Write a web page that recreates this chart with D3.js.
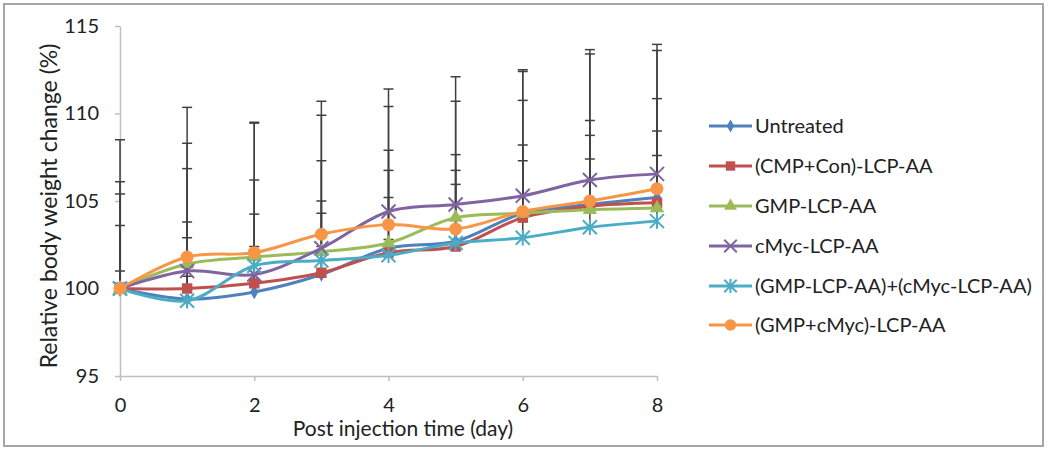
<!DOCTYPE html>
<html>
<head>
<meta charset="utf-8">
<script src="https://cdn.jsdelivr.net/npm/d3@7"></script>
<style>
  html, body { margin: 0; padding: 0; background: #fff; }
  svg { display: block; }
</style>
</head>
<body>
<svg id="chart" width="1050" height="452"></svg>
<script>
// ---------------- DATA ----------------
const days = [0, 1, 2, 3, 4, 5, 6, 7, 8];
const xTicks = [0, 2, 4, 6, 8];
const yTicks = [95, 100, 105, 110, 115];

const seriesNames = [
  "Untreated",
  "(CMP+Con)-LCP-AA",
  "GMP-LCP-AA",
  "cMyc-LCP-AA",
  "(GMP-LCP-AA)+(cMyc-LCP-AA)",
  "(GMP+cMyc)-LCP-AA"
];
const seriesColors = ["#4F81BD", "#C0504D", "#9BBB59", "#8064A2", "#4BACC6", "#F79646"];
const seriesMarkers = ["diamond", "square", "triangle", "x", "star", "circle"];

const untreated   = [100, 99.4, 99.8, 100.8, 102.3, 102.7, 104.3, 104.8, 105.2];
const cmpCon      = [100, 100.0, 100.3, 100.9, 102.05, 102.4, 104.05, 104.7, 104.9];
const gmp         = [100, 101.4, 101.8, 102.1, 102.6, 104.05, 104.3, 104.5, 104.6];
const cmyc        = [100, 101.0, 100.8, 102.3, 104.4, 104.8, 105.3, 106.2, 106.55];
const gmpPlusCmyc = [100, 99.3, 101.3, 101.6, 101.9, 102.6, 102.9, 103.5, 103.85];
const gmpCmycCo   = [100, 101.8, 102.05, 103.1, 103.65, 103.4, 104.4, 105.0, 105.7];

const untreatedErr   = [1.0, 3.5, 2.6, 3.5, 2.9, 3.25, 3.0, 2.6, 2.4];
const cmpConErr      = [3.6, 3.8, 3.95, 4.1, 4.7, 4.35, 4.15, 4.05, 4.1];
const gmpErr         = [5.4, 5.45, 4.4, 5.2, 5.3, 3.6, 6.45, 5.1, 6.25];
const cmycErr        = [6.1, 7.3, 8.65, 7.6, 6.0, 5.9, 7.1, 7.2, 7.05];
const gmpPlusCmycErr = [0.3, 1.4, 0.9, 0.8, 0.9, 0.7, 1.5, 1.2, 1.1];
const gmpCmycCoErr   = [8.5, 8.55, 7.45, 7.6, 7.75, 8.7, 8.1, 8.65, 8.25];

const seriesValues = [untreated, cmpCon, gmp, cmyc, gmpPlusCmyc, gmpCmycCo];
const seriesErrors = [untreatedErr, cmpConErr, gmpErr, cmycErr, gmpPlusCmycErr, gmpCmycCoErr];

// ---------------- LAYOUT ----------------
const svg = d3.select("#chart");
const FONT = "Lato, 'Open Sans', sans-serif";

svg.append("rect")
  .attr("x", 4).attr("y", 4).attr("width", 1039).attr("height", 442)
  .attr("fill", "#fff").attr("stroke", "#a6a6a6").attr("stroke-width", 2);

const x = d3.scaleLinear().domain([0, 8]).range([120, 657]);
const y = d3.scaleLinear().domain([95, 115]).range([376, 26]);

// Axes
const yAxis = svg.append("g")
  .attr("transform", `translate(${x(0)},0)`)
  .call(d3.axisLeft(y).tickValues(yTicks).tickSize(5).tickSizeOuter(0).tickPadding(16));
const xAxis = svg.append("g")
  .attr("transform", `translate(0,${y(95)})`)
  .call(d3.axisBottom(x).tickValues(xTicks).tickSize(5).tickSizeOuter(0).tickPadding(17));

[yAxis, xAxis].forEach(g => {
  g.select(".domain").attr("stroke", "#bfbfbf").attr("stroke-width", 1.5);
  g.selectAll(".tick line").attr("stroke", "#bfbfbf").attr("stroke-width", 1.5);
  g.selectAll(".tick text").attr("fill", "#222").style("font-family", FONT).style("font-size", "20px");
});

// Axis titles
svg.append("text")
  .attr("x", 403).attr("y", 436)
  .attr("text-anchor", "middle")
  .style("font-family", FONT).style("font-size", "21px").attr("fill", "#222")
  .text("Post injection time (day)");

svg.append("text")
  .attr("transform", "translate(57,206) rotate(-90)")
  .attr("text-anchor", "middle")
  .style("font-family", FONT).style("font-size", "23px").attr("fill", "#222")
  .text("Relative body weight change (%)");

// ---------------- MARKERS ----------------
function drawMarker(g, type, color, cx, cy, scale) {
  const s = scale || 1;
  if (type === "diamond") {
    g.append("path").attr("d", d3.symbol().type(d3.symbolDiamond).size(60 * s)())
      .attr("transform", `translate(${cx},${cy})`).attr("fill", color);
  } else if (type === "square") {
    g.append("path").attr("d", d3.symbol().type(d3.symbolSquare).size(110 * s)())
      .attr("transform", `translate(${cx},${cy})`).attr("fill", color);
  } else if (type === "triangle") {
    g.append("path").attr("d", d3.symbol().type(d3.symbolTriangle).size(90 * s)())
      .attr("transform", `translate(${cx},${cy})`).attr("fill", color);
  } else if (type === "circle") {
    g.append("circle").attr("cx", cx).attr("cy", cy).attr("r", 6.5 * Math.sqrt(s)).attr("fill", color);
  } else if (type === "x") {
    const r = 7 * Math.sqrt(s);
    g.append("path").attr("d", `M${cx - r},${cy - r}L${cx + r},${cy + r}M${cx - r},${cy + r}L${cx + r},${cy - r}`)
      .attr("stroke", color).attr("stroke-width", 2).attr("fill", "none");
  } else if (type === "star") {
    const r = 7 * Math.sqrt(s);
    g.append("path").attr("d", `M${cx - r},${cy - r}L${cx + r},${cy + r}M${cx - r},${cy + r}L${cx + r},${cy - r}M${cx},${cy - r * 1.1}L${cx},${cy + r * 1.1}`)
      .attr("stroke", color).attr("stroke-width", 2).attr("fill", "none");
  }
}

// ---------------- ERROR BARS ----------------
const errG = svg.append("g");
seriesValues.forEach((vals, si) => {
  const errs = seriesErrors[si];
  vals.forEach((v, i) => {
    const px = x(days[i]);
    const top = y(v + errs[i]);
    errG.append("line").attr("x1", px).attr("x2", px).attr("y1", y(v)).attr("y2", top)
      .attr("stroke", "#404040").attr("stroke-width", 1.5);
    errG.append("line").attr("x1", px - 5).attr("x2", px + 5).attr("y1", top).attr("y2", top)
      .attr("stroke", "#404040").attr("stroke-width", 1.5);
  });
});

// ---------------- LINES ----------------
const line = d3.line()
  .x((d, i) => x(days[i]))
  .y(d => y(d))
  .curve(d3.curveCatmullRom.alpha(0.5));

seriesValues.forEach((vals, si) => {
  const g = svg.append("g");
  g.append("path").attr("d", line(vals))
    .attr("fill", "none").attr("stroke", seriesColors[si]).attr("stroke-width", 3);
  vals.forEach((v, i) => drawMarker(g, seriesMarkers[si], seriesColors[si], x(days[i]), y(v)));
});

// ---------------- LEGEND ----------------
const legendY = [126, 166, 206, 246, 286, 325];
seriesNames.forEach((name, si) => {
  const g = svg.append("g");
  const ly = legendY[si];
  g.append("line").attr("x1", 709).attr("x2", 752).attr("y1", ly).attr("y2", ly)
    .attr("stroke", seriesColors[si]).attr("stroke-width", 3);
  drawMarker(g, seriesMarkers[si], seriesColors[si], 730.5, ly, 0.8);
  g.append("text").attr("x", 755).attr("y", ly).attr("dy", "0.35em")
    .style("font-family", FONT).style("font-size", "20px").attr("fill", "#222")
    .text(name);
});
</script>
</body>
</html>
